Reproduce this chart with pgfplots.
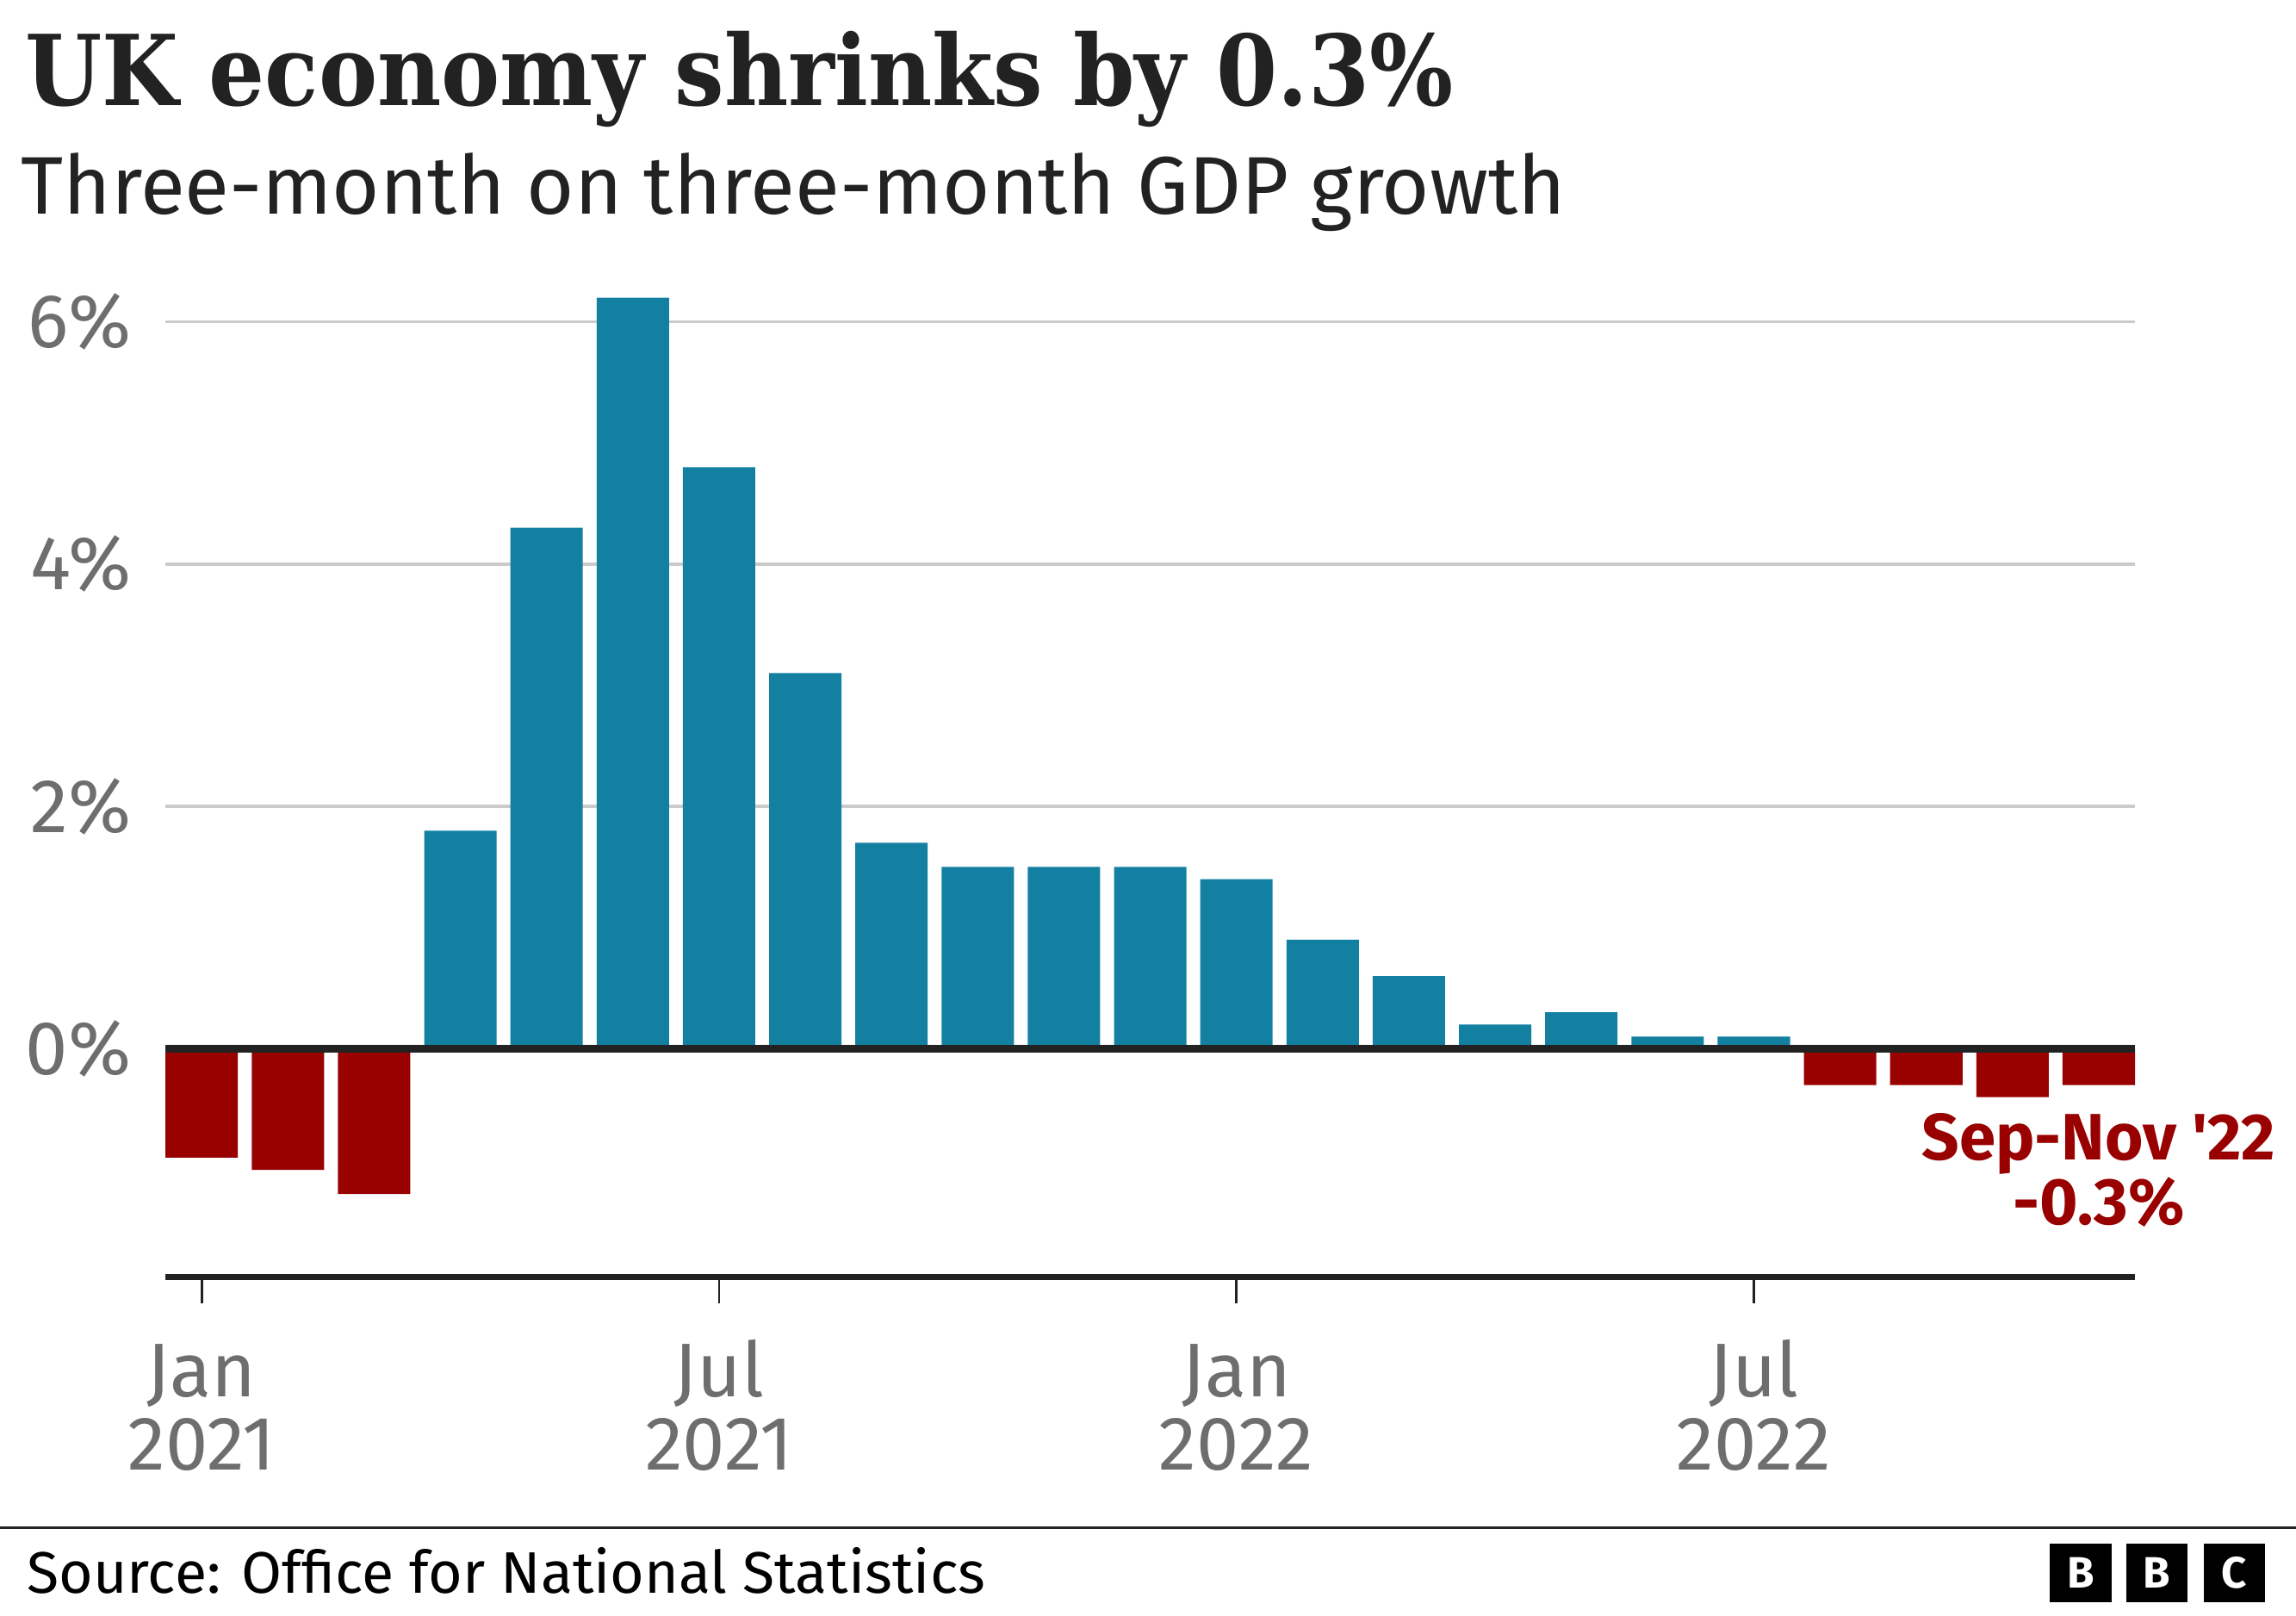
\documentclass[border=0pt]{standalone}
\usepackage{fontspec}
\usepackage{pgfplots}
\pgfplotsset{compat=1.18}
\setmainfont{Fira Sans}
\newfontfamily\titlefont{DejaVu Serif Condensed}
\newfontfamily\annfont{Fira Sans}
\definecolor{bbcblue}{HTML}{1380A1}
\definecolor{bbcred}{HTML}{990000}
\definecolor{dark}{HTML}{222222}
\definecolor{tickgray}{HTML}{6E6E6E}
\definecolor{gridgray}{HTML}{CBCBCB}
\newcommand{\tstrut}{\rule{0pt}{21pt}}
\begin{document}
\begin{tikzpicture}
\useasboundingbox (0,0) rectangle (784pt,551.5pt);
\node[anchor=base west, inner sep=0, text=dark, font=\titlefont\bfseries\fontsize{33.4}{38}\selectfont] at (8.5pt,515.5pt) {UK economy shrinks by 0.3\%};
\node[anchor=base west, inner sep=0, text=dark, font=\fontsize{27.9}{32}\selectfont] at (7pt,478.5pt) {Three-month on three-month GDP growth};
\begin{axis}[
 at={(56.5pt,115.5pt)}, anchor=south west,
 width=672.5pt, height=342.65pt, scale only axis,
 xmin=-0.42, xmax=22.42, ymin=-1.886, ymax=6.4,
 ybar, bar width=0.84, bar shift=0pt,
 axis lines*=left,
 x axis line style={-, line width=2pt, dark},
 y axis line style={draw=none},
 xtick={0,6,12,18},
 xticklabels={\tstrut Jan\\2021,\tstrut Jul\\2021,\tstrut Jan\\2022,\tstrut Jul\\2022},
 ytick={0,2,4,6}, yticklabels={0\%,2\%,4\%,6\%},
 tick align=outside,
 major tick length=9pt,
 xtick style={line width=0.8pt, dark},
 ytick style={draw=none},
 ymajorgrids, grid style={gridgray, line width=1pt},
 xticklabel style={align=center, text=tickgray, font=\fontsize{26}{25}\selectfont, inner sep=0pt, yshift=-10.5pt},
 yticklabel style={text=tickgray, font=\fontsize{26}{28}\selectfont, inner sep=0pt, xshift=-2.5pt},
 clip=false,
]
\addplot[fill=bbcblue, draw=none] coordinates {(3,1.8)(4,4.3)(5,6.2)(6,4.8)(7,3.1)(8,1.7)(9,1.5)(10,1.5)(11,1.5)(12,1.4)(13,0.9)(14,0.6)(15,0.2)(16,0.3)(17,0.1)(18,0.1)};
\addplot[fill=bbcred, draw=none] coordinates {(0,-0.9)(1,-1.0)(2,-1.2)(19,-0.3)(20,-0.3)(21,-0.4)(22,-0.3)};
\draw[line width=2.5pt, dark] (axis cs:-0.42,0) -- (axis cs:22.42,0);
\node[align=center, anchor=north, text=bbcred, font=\annfont\bfseries\fontsize{22.4}{19.5}\selectfont, inner sep=0] at (axis cs:22,-0.53) {Sep-Nov '22\\-0.3\%};
\end{axis}
\draw[dark, line width=1pt] (0,30pt) -- (784pt,30pt);
\node[anchor=base west, inner sep=0, text=black, font=\fontsize{20}{24}\selectfont] at (9pt,7.5pt) {Source: Office for National Statistics};
\foreach \x/\l in {700/B,726/B,752.5/C}{
  \fill[black] (\x pt,4.5pt) rectangle ++(21pt,20pt);
  \node[text=white, font=\bfseries\fontsize{15}{15}\selectfont, inner sep=0] at (\x pt+10.5pt,14.5pt) {\l};
}
\end{tikzpicture}
\end{document}
